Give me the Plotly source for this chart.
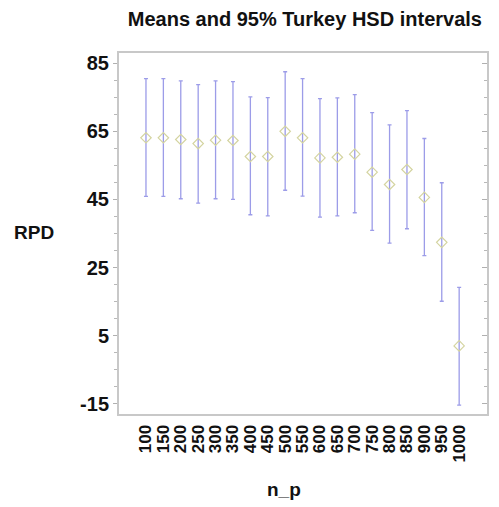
import plotly.graph_objects as go

categories = ["100", "150", "200", "250", "300", "350", "400", "450", "500", "550",
              "600", "650", "700", "750", "800", "850", "900", "950", "1000"]
means = [63.1, 63.1, 62.6, 61.4, 62.4, 62.3, 57.6, 57.6, 65.0, 63.1,
         57.2, 57.4, 58.3, 53.0, 49.4, 53.8, 45.6, 32.4, 2.0]
upper = [80.5, 80.5, 79.8, 78.7, 79.8, 79.6, 75.1, 74.9, 82.5, 80.5,
         74.6, 74.8, 75.8, 70.5, 66.9, 71.1, 62.9, 49.9, 19.2]
lower = [45.9, 45.9, 45.2, 43.9, 45.2, 45.0, 40.5, 40.2, 47.7, 46.0,
         39.8, 40.2, 41.1, 35.9, 32.2, 36.4, 28.5, 15.1, -15.4]
y_ticks = [85, 65, 45, 25, 5, -15]
y_ticktext = ["85", "65", "45", "25", "5", "-15"]
y_minor = [80, 75, 70, 60, 55, 50, 40, 35, 30, 20, 15, 10, 0, -5, -10]

err_plus = [u - m for u, m in zip(upper, means)]
err_minus = [m - l for m, l in zip(means, lower)]

FONT = "Liberation Sans, Arial, sans-serif"
yrange = [-18, 88]

fig = go.Figure()
fig.add_trace(go.Scatter(
    x=categories, y=means, mode="markers",
    marker=dict(symbol="diamond-open", size=8, color="#d4d4a0", line=dict(width=1.2)),
    error_y=dict(type="data", symmetric=False, array=err_plus, arrayminus=err_minus,
                 color="#9c9ce8", thickness=1.3, width=2),
    showlegend=False,
))
# invisible trace to render the right-hand inner ticks
fig.add_trace(go.Scatter(x=[categories[0]], y=[means[0]], yaxis="y2", mode="markers",
                         marker=dict(opacity=0), showlegend=False, hoverinfo="skip"))

fig.update_layout(
    width=499, height=507,
    margin=dict(l=119, r=10, t=53, b=93),
    paper_bgcolor="white", plot_bgcolor="white",
    font=dict(family=FONT, color="#111"),
    title=dict(text="<b>Means and 95% Turkey HSD intervals</b>", x=0.611, xanchor="center",
               y=0.962, yanchor="middle", font=dict(size=20, family=FONT)),
    xaxis=dict(
        type="category", range=[-1.55, 19.6], showgrid=False,
        showline=True, linecolor="#c8c8c8", linewidth=2, mirror=True,
        tickmode="linear", tick0=0, dtick=1,
        ticks="", tickangle=-90,
        tickfont=dict(size=17, family=FONT, color="#111", weight="bold"), ticklabelstandoff=2,
    ),
    yaxis=dict(
        range=yrange, tickvals=y_ticks, ticktext=y_ticktext, showgrid=False,
        zeroline=False, showline=True, linecolor="#c8c8c8", linewidth=2, mirror=True,
        ticks="outside", ticklen=4, tickcolor="#b0b0b0",
        minor=dict(tickvals=y_minor, ticks="outside", ticklen=3, tickcolor="#b8b8b8"),
        tickfont=dict(size=20, family=FONT, color="#111", weight="bold"),
        ticklabelstandoff=0,
    ),
    yaxis2=dict(
        range=yrange, overlaying="y", side="right", showgrid=False, zeroline=False,
        tickvals=y_ticks, showticklabels=False,
        ticks="inside", ticklen=5, tickcolor="#b0b0b0",
        minor=dict(tickvals=y_minor, ticks="inside", ticklen=3, tickcolor="#b8b8b8"),
    ),
    annotations=[
        dict(text="<b>RPD</b>", xref="paper", yref="paper", x=-0.232, y=0.504,
             xanchor="center", yanchor="middle", showarrow=False,
             font=dict(size=19, family=FONT, color="#111")),
        dict(text="<b>n_p</b>", xref="paper", yref="paper", x=0.449, y=-0.21,
             xanchor="center", yanchor="middle", showarrow=False,
             font=dict(size=19, family=FONT, color="#111")),
    ],
)

fig.write_html("out.html")
